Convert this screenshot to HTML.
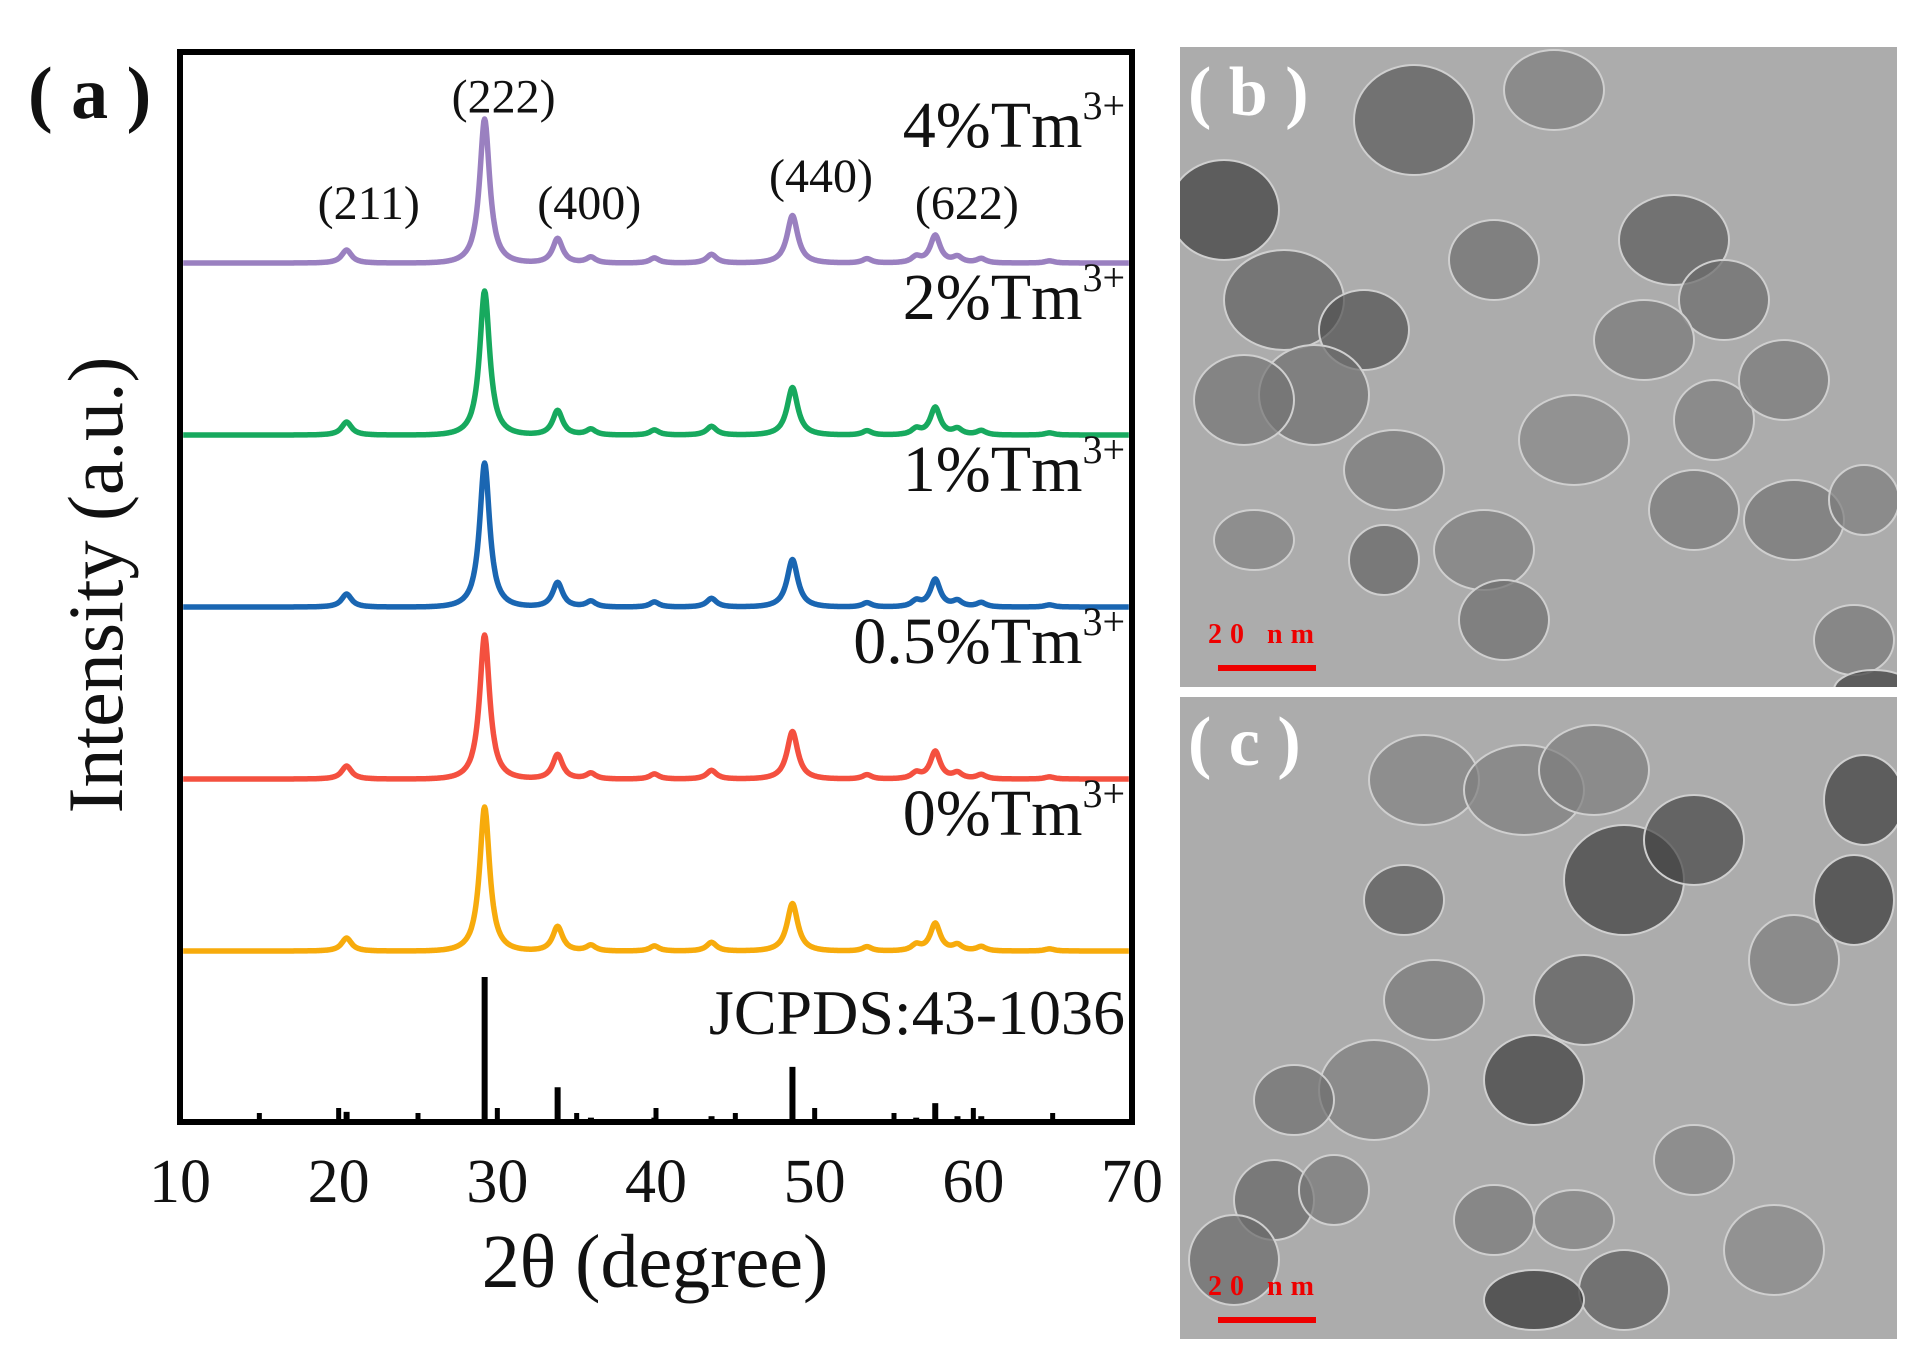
<!DOCTYPE html>
<html><head><meta charset="utf-8"><style>
html,body{margin:0;padding:0;background:#fff;}
svg{display:block;font-family:"Liberation Serif",serif;}
</style></head><body>
<svg id="fig" width="1912" height="1359" viewBox="0 0 1912 1359">
<g id="tem"></g>
<g id="chart"></g>
</svg>
<script>
// ---- chart data ----
const xTicks = [10,20,30,40,50,60,70];
const peakPos = [20.5,29.2,33.8,35.9,39.9,43.5,48.6,53.3,56.4,57.6,59.0,60.5,64.8];
const peakRel = [0.09,1.0,0.17,0.04,0.035,0.06,0.33,0.03,0.04,0.19,0.04,0.03,0.015];
const peakWid = [0.42,0.42,0.42,0.4,0.4,0.42,0.45,0.4,0.4,0.42,0.4,0.4,0.4];
const seriesNames = ["4%Tm3+","2%Tm3+","1%Tm3+","0.5%Tm3+","0%Tm3+"];
const seriesLabels = ["4%Tm","2%Tm","1%Tm","0.5%Tm","0%Tm"];
const seriesColors = ["#9a80c0","#17a95e","#1a66b2","#f4503f","#f7ab0c"];
const seriesOffset = [4,3,2,1,0];
const stickPos = [20.5,29.2,33.8,35.9,39.9,43.5,48.6,53.3,56.4,57.6,59.0,60.5];
const stickRel = [0.07,1.0,0.24,0.03,0.03,0.04,0.38,0.02,0.03,0.13,0.04,0.04];
const millerLabels = ["(211)","(222)","(400)","(440)","(622)"];
const millerX = [22.4,30.9,36.3,50.9,60.1];
const millerYOff = [0.36,1.1,0.36,0.55,0.36];

const NS="http://www.w3.org/2000/svg";
const L=180,R=1132,T=52,B=1122;
const xs=v=>L+(v-10)/60*(R-L);
const base0=951, step=172, peakH=144;
const yBase=i=>base0-seriesOffset[i]*step;
function mk(tag,attrs,parent){const e=document.createElementNS(NS,tag);for(const k in attrs)e.setAttribute(k,attrs[k]);parent.appendChild(e);return e;}
const ch=document.getElementById('chart');

// series
seriesNames.forEach((n,i)=>{
  let d="";
  for(let x=10.2;x<=69.8;x+=0.05){
    let y=0;
    for(let p=0;p<peakPos.length;p++){const w=peakWid[p];const dx=(x-peakPos[p])/w;y+=peakRel[p]/(1+dx*dx*1.2)*Math.exp(-dx*dx*0.02);}
    d+=(d?"L":"M")+xs(x).toFixed(1)+","+(yBase(i)-y*peakH).toFixed(1);
  }
  const p=mk('path',{d:d,fill:'none',stroke:seriesColors[i],'stroke-width':5.5,'stroke-linejoin':'round'},ch);
  
  
  const t=mk('text',{x:1125,y:yBase(i)-116,'text-anchor':'end','font-size':66,fill:'#111'},ch);
  t.textContent=seriesLabels[i];
  const s=document.createElementNS(NS,'tspan');s.setAttribute('dy',-28);s.setAttribute('font-size',40);s.textContent='3+';t.appendChild(s);
  
  
});
// sticks
stickPos.forEach((v,i)=>{
  const l=mk('line',{x1:xs(v),x2:xs(v),y1:B,y2:B-stickRel[i]*145,stroke:'#000','stroke-width':6},ch);
  
  
});
const jc=mk('text',{x:1125,y:1034,'text-anchor':'end','font-size':64,fill:'#111'},ch);jc.textContent='JCPDS:43-1036';


// miller
millerLabels.forEach((m,i)=>{
  const t=mk('text',{x:xs(millerX[i])-8,y:yBase(0)-millerYOff[i]*peakH+8,'text-anchor':'middle','font-size':48,fill:'#111'},ch);
  t.textContent=m;
  
  
});
// frame
const fr=mk('rect',{x:L,y:T,width:R-L,height:B-T,fill:'none',stroke:'#000','stroke-width':6},ch);


// ticks
for(let v=10;v<=70;v+=5){
  const tk=mk('line',{x1:xs(v),x2:xs(v),y1:B,y2:B-(v%10===0?14:9),stroke:'#000','stroke-width':5},ch);
  
  
}
xTicks.forEach(v=>{
  const t=mk('text',{x:xs(v),y:1202,'text-anchor':'middle','font-size':62,fill:'#111'},ch);
  t.textContent=v;
  
  
});
const xt=mk('text',{x:655,y:1287,'text-anchor':'middle','font-size':76,fill:'#111'},ch);xt.textContent='2θ (degree)';


const yt=mk('text',{x:0,y:0,'text-anchor':'middle','font-size':78,fill:'#111',transform:'translate(122,585) rotate(-90)'},ch);yt.textContent='Intensity (a.u.)';


const pa=mk('text',{x:28,y:118,'font-size':74,'font-weight':'bold',fill:'#111'},ch);pa.textContent='( a )';



// ---- TEM panels ----
const tem=document.getElementById('tem');
const blobsB=[[1230,210,55,50,60],[1290,300,60,50,95],[1420,120,60,55,90],[1370,330,45,40,80],[1320,395,55,50,110],[1250,400,50,45,115],[1500,260,45,40,110],[1680,240,55,45,90],[1730,300,45,40,105],[1650,340,50,40,120],[1720,420,40,40,125],[1790,380,45,40,120],[1800,520,50,40,115],[1580,440,55,45,135],[1490,550,50,40,125],[1390,560,35,35,100],[1400,470,50,40,120],[1700,510,45,40,120],[1860,640,40,35,120],[1870,500,35,35,125],[1560,90,50,40,125],[1510,620,45,40,110],[1880,690,40,20,60],[1260,540,40,30,130]];
const blobsC=[[1430,780,55,45,130],[1530,790,60,45,125],[1600,770,55,45,125],[1410,900,40,35,85],[1630,880,60,55,60],[1700,840,50,45,70],[1870,800,40,45,60],[1590,1000,50,45,90],[1540,1080,50,45,60],[1440,1000,50,40,120],[1380,1090,55,50,125],[1300,1100,40,35,110],[1280,1200,40,40,100],[1240,1260,45,45,105],[1340,1190,35,35,120],[1500,1220,40,35,120],[1580,1220,40,30,130],[1630,1290,45,40,90],[1540,1300,50,30,50],[1780,1250,50,45,135],[1700,1160,40,35,130],[1800,960,45,45,125],[1860,900,40,45,55]];
function panel(y0,h,blobs,label,name){
  const g=mk('g',{},tem);
  
  
  mk('rect',{x:1180,y:y0,width:717,height:h,fill:'#acacac'},g);
  const cp=mk('clipPath',{id:name+'-clip'},g);mk('rect',{x:1180,y:y0,width:717,height:h},cp);
  const bg=mk('g',{'clip-path':'url(#'+name+'-clip)'},g);
  blobs.forEach(b=>{const v=b[4];mk('ellipse',{cx:b[0]-6,cy:b[1],rx:b[2],ry:b[3],fill:'rgb('+v+','+v+','+v+')','fill-opacity':0.7,stroke:'#cfcfcf','stroke-width':2},bg);});
  const lt=mk('text',{x:1188,y:y0+68,'font-size':70,'font-weight':'bold',fill:'#fff'},g);lt.textContent=label;
  const sb=mk('text',{x:1208,y:y0+h-44,'font-size':28,'font-weight':'bold',fill:'#e00','letter-spacing':8},g);sb.textContent='20 nm';
  mk('rect',{x:1218,y:y0+h-22,width:98,height:6,fill:'#e00'},g);
}
panel(47,640,blobsB,'( b )','tem-panel-b');
panel(697,642,blobsC,'( c )','tem-panel-c');
</script>
</body></html>
